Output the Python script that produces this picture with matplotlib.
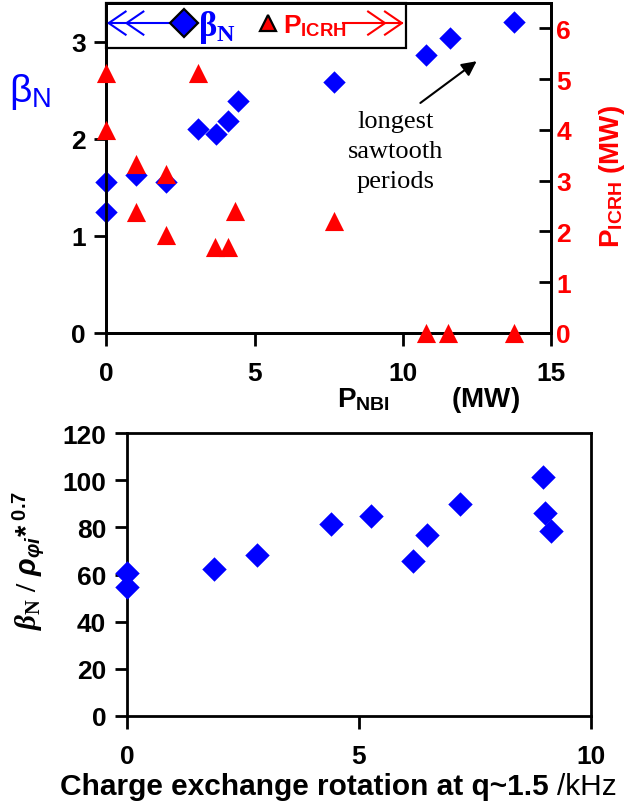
import matplotlib
matplotlib.use("Agg")
import matplotlib.pyplot as plt
from matplotlib import font_manager
from matplotlib.patches import Rectangle

# top panel: beta_N and P_ICRH against P_NBI (MW)
nbi_beta = [0, 0, 1.0, 2.0, 3.1, 3.7, 4.1, 4.45, 7.7, 10.8, 11.6, 13.75]
beta_n = [1.56, 1.25, 1.63, 1.56, 2.10, 2.05, 2.18, 2.39, 2.59, 2.86, 3.04, 3.20]
nbi_icrh = [0, 0, 1.0, 1.0, 2.0, 2.0, 3.1, 3.65, 4.1, 4.35, 7.7, 10.8, 11.55, 13.75]
p_icrh = [5.13, 3.99, 3.32, 2.38, 3.13, 1.92, 5.13, 1.69, 1.69, 2.40, 2.20, 0, 0, 0]

# bottom panel: beta_N / rho* ^0.7 against rotation (kHz)
rotation_khz = [0, 0, 1.87, 2.8, 4.4, 5.25, 6.17, 6.46, 7.17, 8.97, 9.0, 9.14]
beta_rho = [60.7, 54.7, 62.2, 68.2, 81.3, 84.7, 65.8, 76.7, 90.1, 101.3, 86.1, 78.5]

names = {f.name for f in font_manager.fontManager.ttflist}
sans = "Liberation Sans Narrow" if "Liberation Sans Narrow" in names else "Liberation Sans"

plt.rcParams["font.family"] = [sans, "DejaVu Sans"]
plt.rcParams["font.weight"] = "bold"
plt.rcParams["axes.labelweight"] = "bold"
plt.rcParams["mathtext.fontset"] = "custom"
plt.rcParams["mathtext.rm"] = "Liberation Serif"
plt.rcParams["mathtext.it"] = "Liberation Serif:italic"
plt.rcParams["mathtext.bf"] = sans + ":bold"
plt.rcParams["mathtext.sf"] = "Liberation Sans"
if "mathtext.bfit" in plt.rcParams:
    plt.rcParams["mathtext.bfit"] = "Liberation Sans:bold:italic"
    rho = r"\mathbfit{ρ}_{\mathbfit{φi}}"
else:
    rho = r"\mathit{ρ}_{\mathit{φi}}"

BLUE = "#0000ff"
RED = "#ff0000"

fig = plt.figure(figsize=(6.4, 8.12), dpi=100)

# ---------------- top panel ----------------
ax = fig.add_axes([0.1664, 0.5887, 0.694, 0.4064])
ax2 = ax.twinx()

ax.scatter(nbi_beta, beta_n, marker="D", s=130, color=BLUE, linewidths=0,
           clip_on=False, zorder=3)
ax2.scatter(nbi_icrh, p_icrh, marker="^", s=190, color=RED, linewidths=0,
            clip_on=False, zorder=3)

ax.set_xlim(0, 15)
ax.set_ylim(0, 3.4)
ax2.set_ylim(0, 6.5)
ax.set_xticks([0, 5, 10, 15])
ax.set_yticks([0, 1, 2, 3])
ax2.set_yticks(range(7))

for a in (ax, ax2):
    for sp in a.spines.values():
        sp.set_linewidth(2)
ax.tick_params(axis="both", direction="out", length=9, width=2, labelsize=19)
ax.tick_params(axis="x", pad=11)
ax.tick_params(axis="y", pad=6)
ax2.tick_params(axis="y", direction="in", length=9, width=2, labelsize=19,
                labelcolor=RED, pad=4)

ax.set_ylabel(r"β$_\mathregular{N}$", family="Liberation Sans", fontweight="normal",
              size=28, color=BLUE, rotation=0, ha="center", va="center")
ax.yaxis.set_label_coords(-0.172, 0.733)
ax2.set_ylabel(r"P$_\mathregular{ICRH}$ (MW)", color=RED, size=20, fontweight="bold",
               rotation=90, ha="center", va="center")
ax2.yaxis.set_label_coords(1.138, 0.476)
ax.set_xlabel(r"P$_\mathregular{NBI}$        (MW)", size=20, fontweight="bold",
              ha="center", va="center")
ax.xaxis.set_label_coords(0.724, -0.2)

ax.text(9.75, 1.875, "longest\nsawtooth\nperiods", family="Liberation Serif",
        fontweight="normal", size=19, ha="center", va="center", linespacing=1.45)
ax.annotate("", xy=(12.5, 2.80), xytext=(10.6, 2.37),
            arrowprops=dict(arrowstyle="-|>", color="black", lw=1.5,
                            mutation_scale=22, shrinkA=0, shrinkB=0))

# hand-made legend box with arrows pointing to each axis
tr = ax2.transAxes
ax2.add_patch(Rectangle((0, 0.864), 0.674, 0.136, transform=tr, fill=False,
                        lw=1.6, ec="black", clip_on=False, zorder=5))
yl = 0.939
ax2.plot([0.005, 0.143], [yl, yl], color=BLUE, lw=1.5, transform=tr, clip_on=False, zorder=6)
for tip in (0.005, 0.045):
    ax2.plot([tip + 0.038, tip, tip + 0.038], [yl + 0.035, yl, yl - 0.035],
             color=BLUE, lw=1.5, transform=tr, clip_on=False, zorder=6)
ax2.plot([0.174], [yl], marker="D", ms=14, color=BLUE, mec="black", mew=1.6,
         transform=tr, clip_on=False, zorder=7)
ax2.text(0.207, yl - 0.01, r"$\mathrm{β}_\mathrm{N}$", color=BLUE, size=25,
         ha="left", va="center", transform=tr, zorder=7)
ax2.plot([0.363], [yl], marker="^", ms=12, color=RED, mec="black", mew=1.6,
         transform=tr, clip_on=False, zorder=7)
ax2.text(0.397, yl - 0.005, r"P$_\mathregular{ICRH}$", color=RED, size=19,
         ha="left", va="center", transform=tr, zorder=7)
ax2.plot([0.532, 0.665], [yl, yl], color=RED, lw=1.5, transform=tr, clip_on=False, zorder=6)
for tip in (0.627, 0.665):
    ax2.plot([tip - 0.038, tip, tip - 0.038], [yl + 0.035, yl, yl - 0.035],
             color=RED, lw=1.5, transform=tr, clip_on=False, zorder=6)

# ---------------- bottom panel ----------------
bx = fig.add_axes([0.1984, 0.117, 0.725, 0.3485])
bx.scatter(rotation_khz, beta_rho, marker="D", s=155, color=BLUE, linewidths=0,
           clip_on=False, zorder=3)
bx.set_xlim(0, 10)
bx.set_ylim(0, 120)
bx.set_xticks([0, 5, 10])
bx.set_yticks(range(0, 121, 20))
for sp in bx.spines.values():
    sp.set_linewidth(2)
bx.tick_params(axis="both", direction="out", length=9, width=2, labelsize=19)
bx.tick_params(axis="x", pad=11)
bx.tick_params(axis="y", pad=6)

bx.set_ylabel(r"$\mathit{β}_\mathrm{N}\ \mathrm{/}\ " + rho + r"\mathbf{*}^{\ \mathbf{0.7}}$",
              size=21, fontweight="normal", ha="center", va="center")
bx.yaxis.set_label_coords(-0.211, 0.555)

lbl = bx.text(-0.144, -0.247, "Charge exchange rotation at q~1.5 ", size=21.5,
              ha="left", va="center", transform=bx.transAxes)
bx.annotate("/kHz", xy=(1, 0.5), xycoords=lbl, size=21.5, fontweight="normal",
            ha="left", va="center")

fig.savefig("out.png", dpi=100)
